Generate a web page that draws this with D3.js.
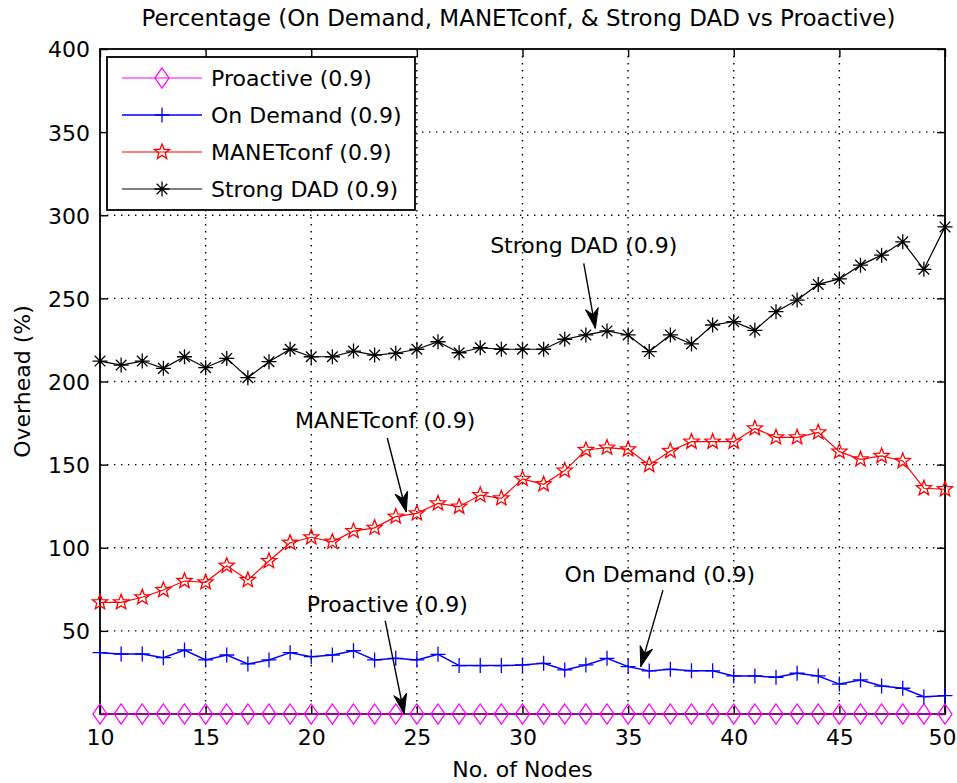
<!DOCTYPE html>
<html>
<head>
<meta charset="utf-8">
<script src="https://cdn.jsdelivr.net/npm/d3@7"></script>
<style>
  html, body { margin: 0; padding: 0; background: #fff; }
  svg { display: block; }
  text { font-family: "DejaVu Sans", "Liberation Sans", Arial, sans-serif; fill: #000; }
</style>
</head>
<body>
<svg id="chart" width="957" height="783"></svg>
<script>
// Number of nodes on the x axis
const nodes = [10,11,12,13,14,15,16,17,18,19,20,21,22,23,24,25,26,27,28,29,30,
               31,32,33,34,35,36,37,38,39,40,41,42,43,44,45,46,47,48,49,50];

// Overhead (%) per protocol, probability 0.9
const proactive = [0,0,0,0,0,0,0,0,0,0,0,0,0,0,0,0,0,0,0,0,0,
                   0,0,0,0,0,0,0,0,0,0,0,0,0,0,0,0,0,0,0,0];
const onDemand = [36.9,36.1,36.1,33.9,38.5,32.5,35.5,30.1,32.5,36.9,34.5,35.5,38.1,32.5,
                  33.5,32.5,35.9,29.1,29.1,29.1,29.5,30.5,26.5,29.5,33.5,28.5,25.9,26.9,
                  26.0,26.0,22.9,22.9,22.1,24.5,22.9,18.0,20.5,16.8,15.5,10.4,11.0];
const manetConf = [67.2,67.2,70.2,74.6,80.0,79.2,89.2,80.6,92.0,103.0,106.3,103.6,110.0,112.0,
                   118.7,120.7,126.7,124.7,131.7,129.7,141.4,138.2,146.4,158.8,160.2,159.2,149.8,158.2,
                   163.8,163.8,163.8,171.8,166.4,166.4,169.4,157.8,153.2,155.2,152.2,135.8,135.2];
const strongDAD = [212.3,209.9,212.3,207.9,214.9,208.3,213.9,202.3,211.9,219.4,214.9,214.9,218.3,215.9,
                   217.0,219.4,223.9,217.3,220.3,219.4,219.4,219.4,225.4,228.0,230.4,228.0,218.0,228.0,
                   222.6,234.0,236.0,230.8,242.0,249.0,258.4,261.7,270.0,276.0,284.0,267.5,293.0];

// Axis ticks
const xTicks = [10,15,20,25,30,35,40,45,50];
const yTicks = [0,50,100,150,200,250,300,350,400];
const yTickLabels = ["","50","100","150","200","250","300","350","400"];

// Series labels, in legend order
const seriesNames = ["Proactive (0.9)", "On Demand (0.9)", "MANETconf (0.9)", "Strong DAD (0.9)"];

// Callouts: label anchor and arrow in axis units
const calloutText  = ["Strong DAD (0.9)", "MANETconf (0.9)", "On Demand (0.9)", "Proactive (0.9)"];
const calloutLabel = [[32.9, 282], [23.5, 177], [36.5, 84], [23.6, 66]];
const calloutTail  = [[32.9, 271], [23.6, 166], [36.65, 74.5], [23.5, 56]];
const calloutTip   = [[33.45, 232], [24.5, 121.5], [35.6, 28.5], [24.4, 0]];

const svg = d3.select("#chart");
const L = 100, R = 945, T = 49, B = 714;
const FONT = '"DejaVu Sans", "Liberation Sans", Arial, sans-serif';
const TXT = "22px";

const x = d3.scaleLinear().domain([10, 50]).range([L, R]);
const y = d3.scaleLinear().domain([0, 400]).range([B, T]);

// Grid
const grid = svg.append("g");
grid.selectAll("line.gx").data(xTicks.slice(1, -1)).join("line")
  .attr("x1", d => x(d)).attr("x2", d => x(d)).attr("y1", T).attr("y2", B)
  .attr("stroke", "#000").attr("stroke-width", 1.4).attr("stroke-dasharray", "1.4,5.6");
grid.selectAll("line.gy").data(yTicks.slice(1, -1)).join("line")
  .attr("y1", d => y(d)).attr("y2", d => y(d)).attr("x1", L).attr("x2", R)
  .attr("stroke", "#000").attr("stroke-width", 1.4).attr("stroke-dasharray", "1.4,5.6");

// Axes (ticks pointing inward on all four sides)
const tickLen = 8;
const gB = svg.append("g").attr("transform", `translate(0,${B})`)
  .call(d3.axisBottom(x).tickValues(xTicks).tickSizeInner(-tickLen).tickSizeOuter(0).tickPadding(15));
const gT = svg.append("g").attr("transform", `translate(0,${T})`)
  .call(d3.axisTop(x).tickValues(xTicks).tickSizeInner(-tickLen).tickSizeOuter(0).tickFormat(""));
const gL = svg.append("g").attr("transform", `translate(${L},0)`)
  .call(d3.axisLeft(y).tickValues(yTicks).tickSizeInner(-tickLen).tickSizeOuter(0).tickPadding(10)
    .tickFormat((d, i) => yTickLabels[i]));
const gR = svg.append("g").attr("transform", `translate(${R},0)`)
  .call(d3.axisRight(y).tickValues(yTicks).tickSizeInner(-tickLen).tickSizeOuter(0).tickFormat(""));
[gB, gT, gL, gR].forEach(g => {
  g.select(".domain").remove();
  g.selectAll(".tick line").attr("stroke", "#000").attr("stroke-width", 1.4);
  g.selectAll("text").attr("font-size", TXT).attr("font-family", FONT).attr("fill", "#000");
});
gL.selectAll("text").attr("dy", "0.36em");
// keep the last x label inside the frame
gB.selectAll(".tick text").filter(d => d === xTicks[xTicks.length - 1]).attr("dx", "-3");

// Box
svg.append("rect").attr("x", L).attr("y", T).attr("width", R - L).attr("height", B - T)
  .attr("fill", "none").attr("stroke", "#000").attr("stroke-width", 1.8);

// Marker shapes
function diamondPath() {
  const w = 7, h = 10;
  return `M0,${-h}L${w},0L0,${h}L${-w},0Z`;
}
function plusPath() {
  const a = 7.5;
  return `M${-a},0H${a}M0,${-a}V${a}`;
}
function starPath() {
  const ro = 8, ri = 3.4;
  let p = "";
  for (let k = 0; k < 10; k++) {
    const r = k % 2 === 0 ? ro : ri;
    const ang = -Math.PI / 2 + k * Math.PI / 5;
    p += (k === 0 ? "M" : "L") + (r * Math.cos(ang)).toFixed(2) + "," + (r * Math.sin(ang)).toFixed(2);
  }
  return p + "Z";
}
function asteriskPath() {
  const a = 7.5, b = 5.3;
  return `M${-a},0H${a}M0,${-a}V${a}M${-b},${-b}L${b},${b}M${-b},${b}L${b},${-b}`;
}

const series = [
  { name: seriesNames[0], values: proactive, color: "#ff00ff", marker: diamondPath, lw: 1.2 },
  { name: seriesNames[1], values: onDemand,  color: "#0000ff", marker: plusPath,    lw: 1.5 },
  { name: seriesNames[2], values: manetConf, color: "#ff0000", marker: starPath,    lw: 1.2 },
  { name: seriesNames[3], values: strongDAD, color: "#000000", marker: asteriskPath, lw: 1.2 }
];

const line = d3.line().x((d, i) => x(nodes[i])).y(d => y(d));

series.forEach(s => {
  const g = svg.append("g");
  g.append("path").datum(s.values).attr("d", line)
    .attr("fill", "none").attr("stroke", s.color).attr("stroke-width", s.lw);
  g.selectAll("path.m").data(s.values).join("path").attr("class", "m")
    .attr("transform", (d, i) => `translate(${x(nodes[i])},${y(d)})`)
    .attr("d", s.marker())
    .attr("fill", "none").attr("stroke", s.color).attr("stroke-width", 1.3);
});

// Callouts with arrows
function arrowHead(g, x0, y0, x1, y1) {
  const ang = Math.atan2(y1 - y0, x1 - x0);
  const len = 20, half = 6.5, back = 6;
  const pts = [[0, 0], [-len, -half], [-len + back, 0], [-len, half]];
  const rot = pts.map(([px, py]) => [
    x1 + px * Math.cos(ang) - py * Math.sin(ang),
    y1 + px * Math.sin(ang) + py * Math.cos(ang)
  ]);
  g.append("path").attr("d", "M" + rot.map(p => p.join(",")).join("L") + "Z")
    .attr("fill", "#000").attr("stroke", "#000").attr("stroke-width", 1);
}
const callouts = svg.append("g");
calloutText.forEach((t, i) => {
  callouts.append("text").attr("x", x(calloutLabel[i][0])).attr("y", y(calloutLabel[i][1]))
    .attr("text-anchor", "middle").attr("dy", "0.36em").attr("font-size", TXT).text(t);
  const x0 = x(calloutTail[i][0]), y0 = y(calloutTail[i][1]);
  const x1 = x(calloutTip[i][0]), y1 = y(calloutTip[i][1]);
  callouts.append("line").attr("x1", x0).attr("y1", y0).attr("x2", x1).attr("y2", y1)
    .attr("stroke", "#000").attr("stroke-width", 1.4);
  arrowHead(callouts, x0, y0, x1, y1);
});

// Legend
const lg = svg.append("g");
lg.append("rect").attr("x", 107).attr("y", 57).attr("width", 308).attr("height", 153)
  .attr("fill", "#fff").attr("stroke", "#000").attr("stroke-width", 1.8);
series.forEach((s, i) => {
  const yy = 78 + i * 37;
  lg.append("line").attr("x1", 122).attr("x2", 202).attr("y1", yy).attr("y2", yy)
    .attr("stroke", s.color).attr("stroke-width", s.lw);
  lg.append("path").attr("transform", `translate(162,${yy})`).attr("d", s.marker())
    .attr("fill", "none").attr("stroke", s.color).attr("stroke-width", 1.3);
  lg.append("text").attr("x", 211).attr("y", yy).attr("dy", "0.36em")
    .attr("font-size", TXT).text(s.name);
});

// Titles
svg.append("text").attr("x", (L + R) / 2 - 4).attr("y", 26).attr("text-anchor", "middle")
  .attr("font-size", "23px").text("Percentage (On Demand, MANETconf, & Strong DAD vs Proactive)");
svg.append("text").attr("x", (L + R) / 2).attr("y", 777).attr("text-anchor", "middle")
  .attr("font-size", TXT).text("No. of Nodes");
svg.append("text").attr("transform", `translate(30,${(T + B) / 2}) rotate(-90)`)
  .attr("text-anchor", "middle").attr("font-size", TXT).text("Overhead (%)");
</script>
</body>
</html>
